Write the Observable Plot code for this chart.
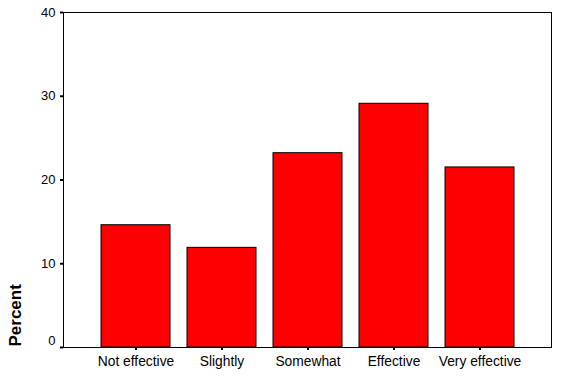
<!DOCTYPE html>
<html>
<head>
<meta charset="utf-8">
<script src="https://cdn.jsdelivr.net/npm/d3@7"></script>
<script src="https://cdn.jsdelivr.net/npm/@observablehq/plot@0.6"></script>
<style>
  html, body { margin: 0; padding: 0; background: #fff; }
  svg { display: block; }
</style>
</head>
<body>
<div id="chart"></div>
<script>
const categories = ["Not effective", "Slightly", "Somewhat", "Effective", "Very effective"];
const percents = [14.6, 11.9, 23.2, 29.1, 21.5];
const yTicks = [0, 10, 20, 30, 40];
const yLabel = "Percent";

const data = categories.map((c, i) => ({category: c, percent: percents[i]}));

const chart = Plot.plot({
  width: 564,
  height: 380,
  marginLeft: 63,
  marginRight: 13,
  marginTop: 12,
  marginBottom: 33,
  style: {fontFamily: "Arial, 'Liberation Sans', sans-serif", fontSize: "13px", background: "#fff", color: "#000"},
  x: {domain: categories, paddingInner: 0.2, paddingOuter: 0.437, tickSize: 3, tickPadding: 6, label: null},
  y: {domain: [0, 40], ticks: yTicks, tickSize: 3, tickPadding: 5, label: null},
  marks: [
    Plot.barY(data, {x: "category", y: "percent", fill: "#ff0000", stroke: "#000", strokeWidth: 1}),
    Plot.frame({stroke: "#000", strokeWidth: 1}),
    Plot.text([yLabel], {text: d => d, frameAnchor: "bottom-left", dx: -48, dy: -1, rotate: -90, textAnchor: "start", lineAnchor: "middle", fontSize: 17, fontWeight: "bold", fill: "#000"})
  ]
});

// thicker tick marks, nudge the "0" label upward
d3.select(chart).selectAll("g[aria-label^='y-axis'], g[aria-label^='x-axis']")
  .selectAll("line, path")
  .attr("stroke-width", 2)
  .attr("stroke", "#000");
d3.select(chart).selectAll("g[aria-label^='y-axis'] text")
  .filter(function() { return this.textContent === "0"; })
  .each(function() {
    const t = this.getAttribute("transform") || "";
    this.setAttribute("transform", t + " translate(0,-7)");
  });
d3.select(chart).selectAll("g[aria-label^='y-axis'] text, g[aria-label^='x-axis'] text").attr("fill", "#000");
d3.select(chart).selectAll("g[aria-label^='x-axis'] text").attr("font-size", "13.8px");

document.getElementById("chart").appendChild(chart);
</script>
</body>
</html>
